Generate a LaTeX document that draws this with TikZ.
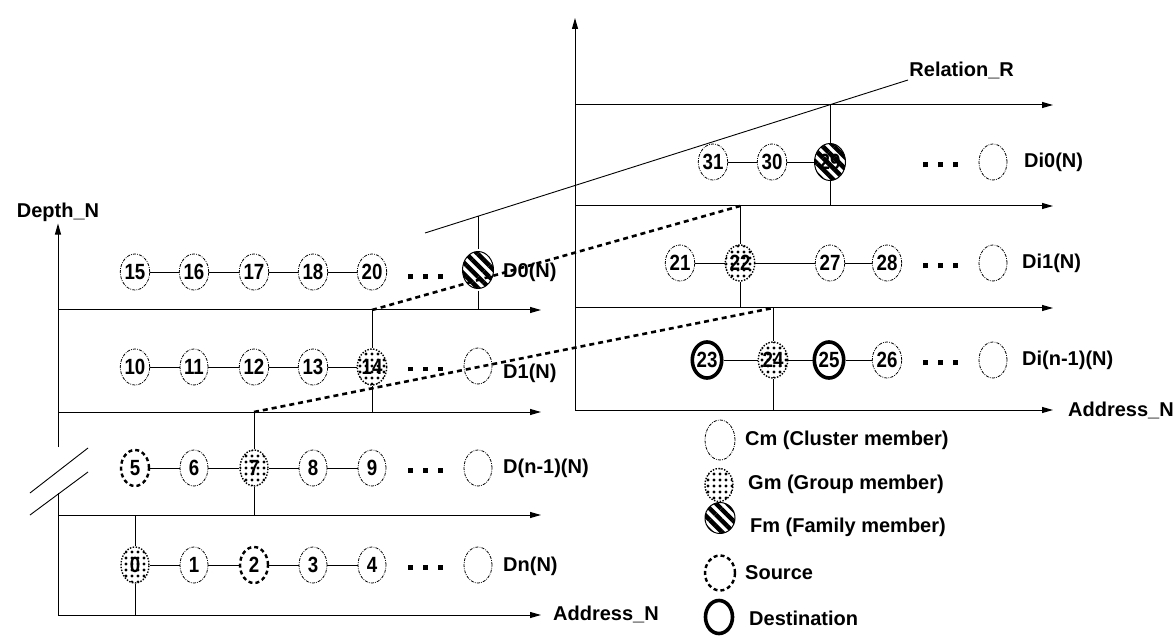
\documentclass[tikz,border=0pt]{standalone}
\usepackage{fontspec}
\setmainfont{Liberation Sans}
\newfontfamily\numfont{Liberation Sans}[FakeStretch=0.85]
\usetikzlibrary{shapes.geometric,arrows.meta,patterns.meta}
\newcommand\sqdots{\rule{5pt}{5pt}\hspace{10pt}\rule{5pt}{5pt}\hspace{10pt}\rule{5pt}{5pt}}

\begin{document}
\begin{tikzpicture}[
    x=1pt, y=-1pt,
    font=\fontsize{20}{24}\selectfont\bfseries,
    axis/.style={line width=1pt, -{Triangle[length=11pt,width=6pt]}},
    link/.style={line width=0.9pt},
    hop/.style={line width=2.6pt, dash pattern=on 5pt off 4pt},
    member/.style={ellipse, draw, line width=0.8pt, dash pattern=on 3pt off 1.2pt on 0.8pt off 1.2pt,
               minimum width=28pt, minimum height=36pt, inner sep=0pt,
               font=\numfont\fontsize{22}{24}\selectfont\bfseries},
    group/.style={member, line width=1.4pt, dash pattern=on 1.4pt off 1.5pt, preaction={fill=white},
               pattern={Dots[distance=6pt,radius=1.6pt]}},
    family/.style={member, solid, line width=1pt, minimum width=31pt, minimum height=37pt,
               preaction={fill=white}, pattern={Lines[angle=-45,distance=8pt,line width=4.5pt]}},
    source/.style={member, line width=2.4pt, dash pattern=on 4pt off 3pt},
    dest/.style={member, solid, line width=3.6pt},
    tag/.style={anchor=west, inner sep=0pt},
]
\useasboundingbox (0,0) rectangle (1176,636);

% left block: depth levels D0 .. Dn
\node[inner sep=2pt] (depth) at (58,212) {Depth\_N};
\draw[axis] (58,447) -- (depth.south);
\draw[line width=1pt] (58,493) -- (58,615);
\draw[link] (88,448) -- (30,493);
\draw[link] (88,472) -- (30,515);
\draw[axis] (58,310) -- (541,310);
\draw[axis] (58,412) -- (541,412);
\draw[axis] (58,515) -- (541,515);
\draw[axis] (58,615) -- (541,615);
\node[tag] (addrL) at (553,614) {Address\_N};

\node[member] (n15) at (135,272) {15};
\node[member] (n16) at (194,272) {16};
\node[member] (n17) at (254,272) {17};
\node[member] (n18) at (313,272) {18};
\node[member] (n20) at (372,272) {20};
\node         (dt0) at (425,277) {\sqdots};
\node[family] (fmA) at (478,270) {};
\node[tag]    (lD0) at (503,272) {D0(N)};
\draw[link] (n15) -- (n16) -- (n17) -- (n18) -- (n20);

\node[member] (n10) at (135,367) {10};
\node[member] (n11) at (194,367) {11};
\node[member] (n12) at (254,367) {12};
\node[member] (n13) at (313,367) {13};
\node[group]  (n14) at (372,367) {14};
\node         (dt1) at (425,369) {\sqdots};
\node[member] (e1)  at (478,366) {};
\node[tag]    (lD1) at (503,373) {D1(N)};
\draw[link] (n10) -- (n11) -- (n12) -- (n13) -- (n14);

\node[source] (n5)  at (135,468) {5};
\node[member] (n6)  at (194,468) {6};
\node[group]  (n7)  at (254,468) {7};
\node[member] (n8)  at (313,468) {8};
\node[member] (n9)  at (372,468) {9};
\node         (dt2) at (425,470) {\sqdots};
\node[member] (e2)  at (478,468) {};
\node[tag]    (lD2) at (503,468) {D(n-1)(N)};
\draw[link] (n5) -- (n6) -- (n7) -- (n8) -- (n9);

\node[group]  (n0)  at (135,565) {0};
\node[member] (n1)  at (194,565) {1};
\node[source] (n2)  at (254,565) {2};
\node[member] (n3)  at (313,565) {3};
\node[member] (n4)  at (372,565) {4};
\node         (dt3) at (425,567) {\sqdots};
\node[member] (e3)  at (478,565) {};
\node[tag]    (lD3) at (503,566) {Dn(N)};
\draw[link] (n0) -- (n1) -- (n2) -- (n3) -- (n4);

% right block: depth levels Di0 .. Di(n-1)
\draw[axis] (575,410) -- (575,18);
\draw[axis] (575,105) -- (1053,105);
\draw[axis] (575,206) -- (1053,206);
\draw[axis] (575,308) -- (1053,308);
\draw[axis] (575,410) -- (1053,410);
\node[tag] (addrR) at (1068,410) {Address\_N};

\coordinate (relA) at (425,233);
\draw[link] (relA) -- (908,80) node[anchor=south west, inner sep=1pt] (relR) {Relation\_R};

\node[member] (n31) at (713,162) {31};
\node[member] (n30) at (772,162) {30};
\node[family] (n29) at (830,162) {29};
\node         (dt4) at (940,165) {\sqdots};
\node[member] (e4)  at (993,162) {};
\node[tag]    (lE0) at (1024,162) {Di0(N)};
\draw[link] (n31) -- (n30) -- (n29);

\node[member] (n21) at (680,263) {21};
\node[group]  (n22) at (740,263) {22};
\node[member] (n27) at (830,263) {27};
\node[member] (n28) at (887,263) {28};
\node         (dt5) at (940,266) {\sqdots};
\node[member] (e5)  at (993,263) {};
\node[tag]    (lE1) at (1022,263) {Di1(N)};
\draw[link] (n21) -- (n22) -- (n27) -- (n28);

\node[dest]   (n23) at (707,360) {23};
\node[group]  (n24) at (773,360) {24};
\node[dest]   (n25) at (829,360) {25};
\node[member] (n26) at (887,360) {26};
\node         (dt6) at (940,363) {\sqdots};
\node[member] (e6)  at (993,360) {};
\node[tag]    (lE2) at (1022,360) {Di(n-1)(N)};
\draw[link] (n23) -- (n24) -- (n25) -- (n26);

% members tied to their axes
\coordinate (jA0) at (478,216);  \coordinate (jA1) at (478,310);
\coordinate (j14a) at (372,310); \coordinate (j14b) at (372,412);
\coordinate (j7a) at (254,412);  \coordinate (j7b) at (254,515);
\coordinate (j0a) at (135,515);  \coordinate (j0b) at (135,615);
\coordinate (j29a) at (830,105); \coordinate (j29b) at (830,206);
\coordinate (j22a) at (740,206); \coordinate (j22b) at (740,308);
\coordinate (j24a) at (773,308); \coordinate (j24b) at (773,410);
\draw[link] (jA0) -- (fmA) -- (jA1);
\draw[link] (j14a) -- (n14) -- (j14b);
\draw[link] (j7a) -- (n7) -- (j7b);
\draw[link] (j0a) -- (n0) -- (j0b);
\draw[link] (j29a) -- (n29) -- (j29b);
\draw[link] (j22a) -- (n22) -- (j22b);
\draw[link] (j24a) -- (n24) -- (j24b);
\draw[hop] (j14a) -- (j22a);
\draw[hop] (j7a) -- (j24a);

% legend
\node[member, minimum width=30pt, minimum height=40pt] (kCm)  at (720,440) {};
\node[group, minimum width=28pt, minimum height=33pt]  (kGm)  at (719,485) {};
\node[family, minimum width=30pt, minimum height=31pt] (kFm)  at (720,518) {};
\node[source, minimum width=30pt, minimum height=35pt] (kSrc) at (720,573) {};
\node[dest, minimum width=27pt, minimum height=33pt]   (kDst) at (719,617) {};
\node[tag] (tCm)  at (745,440) {Cm (Cluster member)};
\node[tag] (tGm)  at (748,484) {Gm (Group member)};
\node[tag] (tFm)  at (750,527) {Fm (Family member)};
\node[tag] (tSrc) at (745,573) {Source};
\node[tag] (tDst) at (749,618) {Destination};
\end{tikzpicture}
\end{document}
